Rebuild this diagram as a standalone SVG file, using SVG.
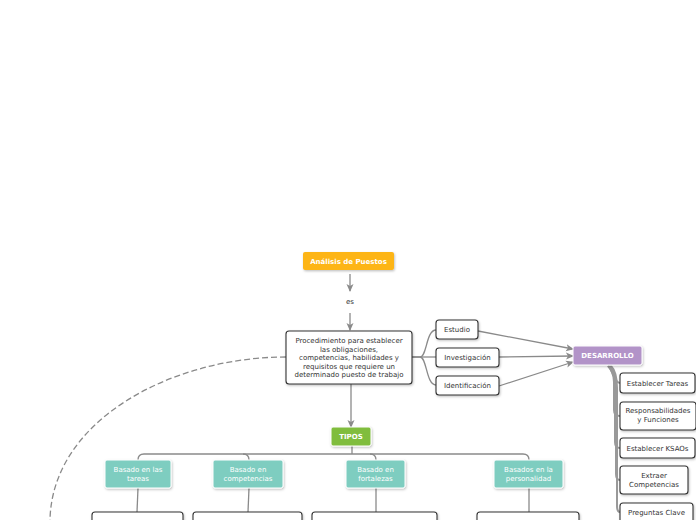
<svg xmlns="http://www.w3.org/2000/svg" width="696" height="520" viewBox="0 0 696 520">
<defs>
<filter id="sh" x="-10%" y="-10%" width="130%" height="140%">
<feDropShadow dx="0.8" dy="1.2" stdDeviation="0.8" flood-color="#000" flood-opacity="0.25"/>
</filter>
<marker id="ah" markerWidth="8" markerHeight="8" refX="7" refY="4" orient="auto" markerUnits="userSpaceOnUse">
<path d="M0,0.5 L8,4 L0,7.5 L2,4 Z" fill="#8a8a8a"/>
</marker>
<style>
.t{font-family:"DejaVu Sans",Verdana,sans-serif;font-size:7px;fill:#333;text-anchor:middle}
.w{fill:#fff}
.b{font-weight:bold}
.box{fill:#fff;stroke:#333;stroke-width:1.1;filter:url(#sh)}
.teal{fill:#7ecdc0;stroke:#fff;stroke-width:1;filter:url(#sh)}
.c{fill:none;stroke:#8a8a8a;stroke-width:1.3}
.cg{fill:none;stroke:#999;stroke-width:2}
</style>
</defs>
<rect width="696" height="520" fill="#fff"/>

<g id="connectors">
<path class="c" d="M350,274 L350,291" marker-end="url(#ah)"/>
<path class="c" d="M350,313 L350,330" marker-end="url(#ah)"/>
<path d="M286,357 C172,357 52,420 50,520" fill="none" stroke="#8a8a8a" stroke-width="1.3" stroke-dasharray="6,3"/>
<path class="c" d="M412,357 L420,357 C427,357 426,330 436,330"/>
<path class="c" d="M412,357 L436,357"/>
<path class="c" d="M420,357 C427,357 426,385 436,385"/>
<path class="c" d="M478,331 L573,349" marker-end="url(#ah)"/>
<path class="c" d="M499,357 L573,356" marker-end="url(#ah)"/>
<path class="c" d="M499,386 L573,362" marker-end="url(#ah)"/>
<path class="c" d="M351,384 L351,427" marker-end="url(#ah)"/>
<path class="c" d="M352,446 L352,454"/>
<path class="c" d="M144,454 L523,454 Q529,454 529,460"/>
<path class="c" d="M144,454 Q138,454 138,460"/>
<path class="c" d="M243,454 Q249,454 249,460"/>
<path class="c" d="M370,454 Q376,454 376,460"/>
<path class="c" d="M138,488 L137,512"/>
<path class="c" d="M249,488 L248,512"/>
<path class="c" d="M376,488 L376,512"/>
<path class="c" d="M529,488 L529,512"/>
<path class="cg" d="M608,366 C613,370 614,383 620,383"/>
<path class="cg" d="M608,366 Q614,372 614,382 L614,410 Q614,416 620,416"/>
<path class="cg" d="M609,366 Q615,372 615,384 L615,442 Q615,448 620,448"/>
<path class="cg" d="M610,366 Q616,372 616,386 L616,474 Q616,480 620,480"/>
<path class="cg" d="M611,366 Q617,372 617,388 L617,506 Q617,512 620,512"/>
</g>

<g id="n-analisis">
<rect x="303" y="252" width="91" height="18" rx="2" fill="#fdb515" filter="url(#sh)"/>
<text class="t w b" x="348.5" y="263.5">Análisis de Puestos</text>
</g>
<g id="n-es">
<text class="t" x="350" y="303.5">es</text>
</g>
<g id="n-proc">
<rect class="box" x="286" y="331" width="126" height="53" rx="3"/>
<text class="t" x="349" y="343">Procedimiento para establecer</text>
<text class="t" x="349" y="351.6">las obligaciones,</text>
<text class="t" x="349" y="360.2">competencias, habilidades y</text>
<text class="t" x="349" y="368.8">requisitos que requiere un</text>
<text class="t" x="349" y="377.4">determinado puesto de trabajo</text>
</g>
<g id="n-estudio">
<rect class="box" x="436" y="320" width="42" height="19" rx="3"/>
<text class="t" x="457" y="332">Estudio</text>
</g>
<g id="n-invest">
<rect class="box" x="436" y="348" width="63" height="19" rx="3"/>
<text class="t" x="467.5" y="360">Investigación</text>
</g>
<g id="n-ident">
<rect class="box" x="436" y="376" width="63" height="19" rx="3"/>
<text class="t" x="467.5" y="388">Identificación</text>
</g>
<g id="n-desarrollo">
<rect x="573" y="346" width="69" height="19" rx="2" fill="#b293c8" stroke="#fff" stroke-width="1" filter="url(#sh)"/>
<text class="t w b" x="607.5" y="358">DESARROLLO</text>
</g>
<g id="n-tareas">
<rect class="box" x="620" y="373" width="75" height="20" rx="3"/>
<text class="t" x="657.5" y="385.5">Establecer Tareas</text>
</g>
<g id="n-resp">
<rect class="box" x="620" y="402" width="76" height="28" rx="3"/>
<text class="t" x="658" y="413">Responsabilidades</text>
<text class="t" x="658" y="422">y Funciones</text>
</g>
<g id="n-ksaos">
<rect class="box" x="620" y="438" width="75" height="20" rx="3"/>
<text class="t" x="657.5" y="450.5">Establecer KSAOs</text>
</g>
<g id="n-compet">
<rect class="box" x="620" y="466" width="68" height="28" rx="3"/>
<text class="t" x="654" y="478">Extraer</text>
<text class="t" x="654" y="487">Competencias</text>
</g>
<g id="n-preg">
<rect class="box" x="620" y="503" width="73" height="30" rx="3"/>
<text class="t" x="656.5" y="515">Preguntas Clave</text>
</g>
<g id="n-tipos">
<rect x="331" y="427" width="40" height="19" rx="2" fill="#80bd3e" stroke="#fff" stroke-width="1" filter="url(#sh)"/>
<text class="t w b" x="351" y="439">TIPOS</text>
</g>
<g id="n-b-tareas">
<rect class="teal" x="105" y="460" width="66" height="28" rx="2"/>
<text class="t w" x="138" y="472">Basado en las</text>
<text class="t w" x="138" y="481">tareas</text>
</g>
<g id="n-b-comp">
<rect class="teal" x="213" y="460" width="70" height="28" rx="2"/>
<text class="t w" x="248" y="472">Basado en</text>
<text class="t w" x="248" y="481">competencias</text>
</g>
<g id="n-b-fort">
<rect class="teal" x="346" y="460" width="59" height="28" rx="2"/>
<text class="t w" x="375.5" y="472">Basado en</text>
<text class="t w" x="375.5" y="481">fortalezas</text>
</g>
<g id="n-b-pers">
<rect class="teal" x="494" y="460" width="69" height="28" rx="2"/>
<text class="t w" x="528.5" y="472">Basados en la</text>
<text class="t w" x="528.5" y="481">personalidad</text>
</g>
<g id="n-d1"><rect class="box" x="92" y="512" width="91" height="30" rx="3"/></g>
<g id="n-d2"><rect class="box" x="193" y="512" width="109" height="30" rx="3"/></g>
<g id="n-d3"><rect class="box" x="312" y="512" width="125" height="30" rx="3"/></g>
<g id="n-d4"><rect class="box" x="477" y="512" width="102" height="30" rx="3"/></g>
</svg>
